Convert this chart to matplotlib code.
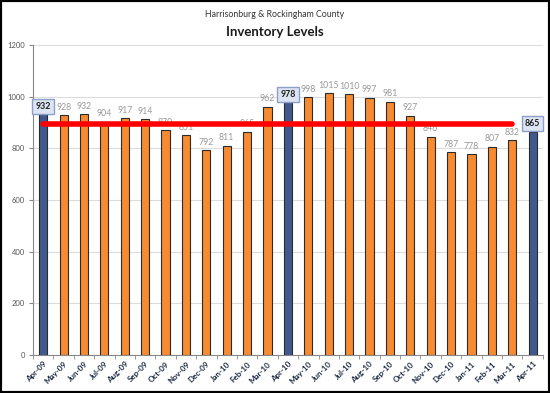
import matplotlib.pyplot as plt
from matplotlib.patches import Rectangle

plt.rcParams["font.family"] = ["Lato", "DejaVu Sans"]

months = ["Apr-09", "May-09", "Jun-09", "Jul-09", "Aug-09", "Sep-09", "Oct-09",
          "Nov-09", "Dec-09", "Jan-10", "Feb-10", "Mar-10", "Apr-10", "May-10",
          "Jun-10", "Jul-10", "Aug-10", "Sep-10", "Oct-10", "Nov-10", "Dec-10",
          "Jan-11", "Feb-11", "Mar-11", "Apr-11"]
inventory = [932, 928, 932, 904, 917, 914, 870, 851, 792, 811, 865, 962, 978,
             998, 1015, 1010, 997, 981, 927, 846, 787, 778, 807, 832, 865]
highlight = ["Apr-09", "Apr-10", "Apr-11"]
ref_level = 894
yticks = [0, 200, 400, 600, 800, 1000, 1200]

orange = "#f68b32"
blue = "#415a8e"

fig = plt.figure(figsize=(5.5, 3.93), dpi=100)
ax = fig.add_axes([0.06, 0.097, 0.927, 0.788])

x = list(range(len(months)))
colors = [blue if m in highlight else orange for m in months]
ax.bar(x, inventory, width=0.4, color=colors, edgecolor="#2b2b2b", linewidth=0.8, zorder=3)

# value labels
for i, (m, v) in enumerate(zip(months, inventory)):
    if m in highlight:
        ax.text(i, v + 32, str(v), ha="center", va="center", fontsize=6.3,
                fontweight="bold", color="#1f1f1f", zorder=5,
                bbox=dict(boxstyle="square,pad=0.35", fc="#dde5f2", ec="#8d9fc9", lw=1))
    else:
        ax.text(i, v + 30, str(v), ha="center", va="center", fontsize=6.3,
                color="#9a9a9a", zorder=2)

# reference line
ax.plot([0, len(months) - 2], [ref_level, ref_level], color="#ff0000",
        linewidth=4, solid_capstyle="round", zorder=4)

ax.set_xlim(-0.5, len(months) - 0.5)
ax.set_ylim(0, 1200)
ax.set_yticks(yticks)
ax.set_yticklabels([str(t) for t in yticks], fontsize=5.5, color="#555555")
ax.set_xticks(x)
ax.set_xticklabels(months, rotation=45, ha="right", rotation_mode="anchor",
                   fontsize=5.8, color="#1f2a44", fontweight="bold")
ax.set_xticks([i - 0.5 for i in range(len(months) + 1)], minor=True)
ax.tick_params(axis="x", which="major", length=0, pad=4)
ax.tick_params(axis="x", which="minor", length=3, color="#888888")
ax.tick_params(axis="y", length=3, color="#888888", pad=3)

ax.grid(axis="y", color="#dcdcdc", linewidth=0.8, zorder=0)
for side in ["top", "right"]:
    ax.spines[side].set_visible(False)
ax.spines["left"].set_color("#888888")
ax.spines["bottom"].set_color("#888888")

fig.text(0.5, 0.962, "Harrisonburg & Rockingham County", ha="center", va="center",
         fontsize=6.3, color="#333333")
fig.text(0.5, 0.918, "Inventory Levels", ha="center", va="center",
         fontsize=9.5, fontweight="bold", color="#1a1a1a")

fig.patches.append(Rectangle((0, 0), 1, 1, transform=fig.transFigure,
                             fill=False, edgecolor="black", linewidth=3))

fig.savefig("out.png", dpi=100)
